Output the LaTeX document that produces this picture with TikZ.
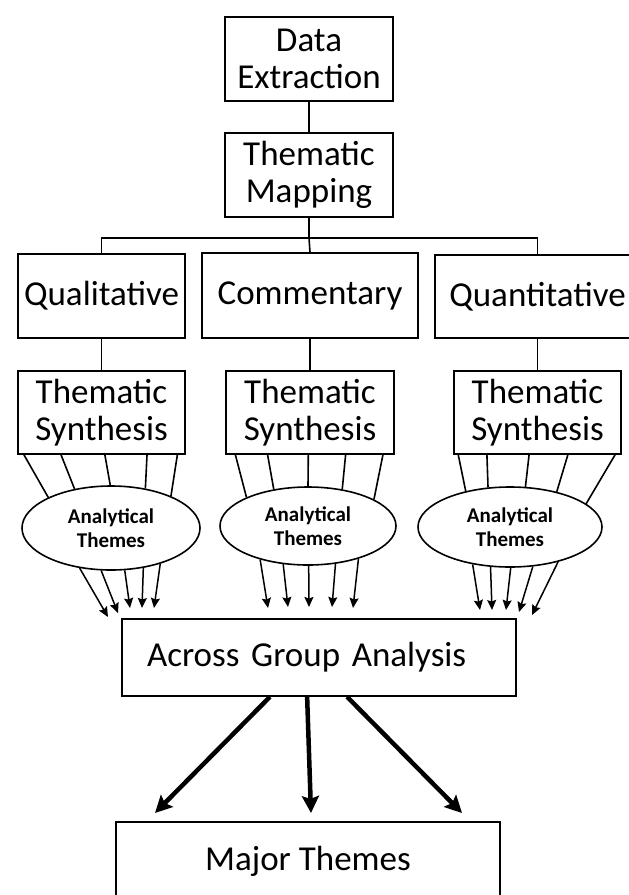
\documentclass[tikz,border=0pt]{standalone}
\usepackage{fontspec}
\setmainfont{Carlito}
\usetikzlibrary{shapes.geometric, arrows.meta, calc}

\tikzset{
    stage/.style={draw, line width=1.6pt, inner sep=0pt, align=center, font=\fontsize{35}{37.5}\selectfont},
    themes/.style={draw, ellipse, line width=1.6pt, inner sep=0pt, align=center, font=\fontsize{21}{24.5}\selectfont\bfseries},
    link/.style={line width=1.6pt},
    feed/.style={line width=1.5pt, -{Stealth[length=10pt,width=9pt,inset=1.5pt]}},
    merge/.style={line width=4.5pt, -{Stealth[length=17pt,width=17pt,inset=3pt]}},
}

\begin{document}
\begin{tikzpicture}[x=1pt, y=-1pt]
    \useasboundingbox (0,0) rectangle (629,895);

    \node[stage, minimum width=168pt, minimum height=84pt] (data) at (309,59) {Data\\Extraction};
    \node[stage, minimum width=168pt, minimum height=84pt] (mapping) at (309,175) {Thematic\\Mapping};

    \node[stage, minimum width=167pt, minimum height=84pt] (qual) at (101.5,296) {Qualitative};
    \node[stage, minimum width=216pt, minimum height=85pt] (comm) at (310,295.5) {Commentary};
    \node[stage, minimum width=205pt, minimum height=83pt] (quant) at (537.5,296.5) {Quantitative};

    \node[stage, minimum width=167pt, minimum height=83pt] (syn1) at (101.5,412.5) {Thematic\\Synthesis};
    \node[stage, minimum width=168pt, minimum height=83pt] (syn2) at (310,412.5) {Thematic\\Synthesis};
    \node[stage, minimum width=167pt, minimum height=83pt] (syn3) at (537.5,412.5) {Thematic\\Synthesis};

    \node[themes, minimum width=178pt, minimum height=84pt] (ell1) at (111,528) {Analytical\\Themes};
    \node[themes, minimum width=176pt, minimum height=78pt] (ell2) at (308,526) {Analytical\\Themes};
    \node[themes, minimum width=184pt, minimum height=80pt] (ell3) at (510,527) {Analytical\\Themes};

    \node[stage, minimum height=77pt, text width=344pt, inner xsep=25pt, align=left] (across) at (319,657.5) {Across Group Analysis};
    \node[stage, minimum width=384pt, minimum height=78pt] (major) at (308,861) {Major Themes};

    % tree at the top
    \coordinate (split) at (309,238);
    \draw[link] (data) -- (mapping);
    \draw[link] (mapping.south) -- (split);
    \draw[link] (split) -| (qual.north);
    \draw[link] (split) -- (comm.north);
    \draw[link] (split) -| (quant.north);
    \draw[link] (qual) -- (syn1);
    \draw[link] (comm) -- (syn2);
    \draw[link] (quant) -- (syn3);

    % synthesis into themes
    \foreach \f/\a in {0.04/154, 0.26/133, 0.52/91, 0.77/49, 0.95/28}
        \draw[link] ($(syn1.south west)!\f!(syn1.south east)$) -- (ell1.\a);
    \foreach \f/\a in {0.06/155, 0.25/133, 0.49/90, 0.71/47, 0.93/22}
        \draw[link] ($(syn2.south west)!\f!(syn2.south east)$) -- (ell2.\a);
    \foreach \f/\a in {0.03/141, 0.20/119, 0.45/69, 0.68/37, 0.96/17}
        \draw[link] ($(syn3.south west)!\f!(syn3.south east)$) -- (ell3.\a);

    % themes into the group analysis
    \foreach \a/\x/\y [count=\i] in {232/108/617, 257/118/613, 288/130/608, 309/142/608, 324/154/608} {
        \coordinate (tipA\i) at (\x,\y);
        \draw[feed] (ell1.\a) -- (tipA\i);
    }
    \foreach \a/\x/\y [count=\i] in {215/268/608, 237/288/607, 271/309/607, 306/332/607, 327/353/608} {
        \coordinate (tipB\i) at (\x,\y);
        \draw[feed] (ell2.\a) -- (tipB\i);
    }
    \foreach \a/\x/\y [count=\i] in {225/480/610, 244/492/610, 271/506/610, 300/519/612, 324/532/615} {
        \coordinate (tipC\i) at (\x,\y);
        \draw[feed] (ell3.\a) -- (tipC\i);
    }

    \coordinate (endL) at (155,813);
    \coordinate (endM) at (311,813);
    \coordinate (endR) at (462,813);
    \draw[merge] ($(across.south west)!0.376!(across.south east)$) -- (endL);
    \draw[merge] ($(across.south west)!0.47!(across.south east)$) -- (endM);
    \draw[merge] ($(across.south west)!0.571!(across.south east)$) -- (endR);
\end{tikzpicture}
\end{document}
